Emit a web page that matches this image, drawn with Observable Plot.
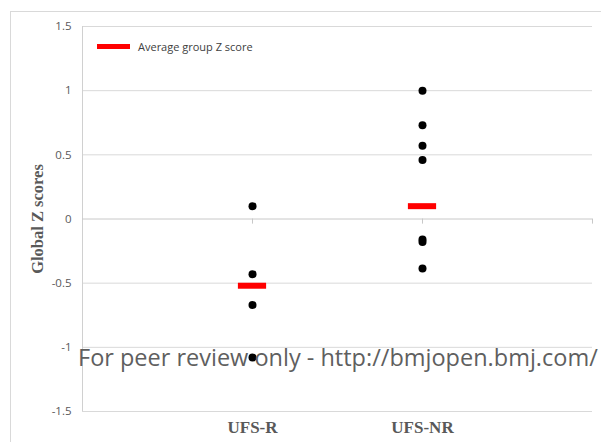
<!DOCTYPE html>
<html><head><meta charset="utf-8">
<script src="https://cdn.jsdelivr.net/npm/d3@7"></script>
<script src="https://cdn.jsdelivr.net/npm/@observablehq/plot@0.6"></script>
<style>
body{margin:0;background:#fff;}
#wrap{position:relative;width:601px;height:442px;overflow:hidden;}
#frame{position:absolute;left:10px;top:11px;width:700px;height:500px;border:1px solid #d9d9d9;box-sizing:border-box;}
#legend{position:absolute;left:97px;top:38px;height:16px;font:11px "Open Sans",sans-serif;color:#404040;display:flex;align-items:center;}
#legend .sw{display:inline-block;width:33px;height:5px;background:#ff0000;margin-right:8px;}
#wm{position:absolute;left:78px;top:346px;font:23.5px/1 "Open Sans",sans-serif;color:#5f5f5f;white-space:nowrap;}
</style></head><body>
<div id="wrap"><div id="frame"></div><div id="chart"></div>
<div id="legend"><span class="sw"></span><span>Average group Z score</span></div>
<div id="wm">For peer review only - http://bmjopen.bmj.com/</div></div>
<script>
const categories = ["UFS-R", "UFS-NR"];
const ufsR = [0.10, -0.43, -0.67, -1.08];
const ufsNR = [1.00, 0.73, 0.57, 0.46, -0.16, -0.18, -0.385];
const groupMeans = [-0.52, 0.10];
const yTicks = [-1.5, -1, -0.5, 0, 0.5, 1, 1.5];
const yLabel = "Global Z scores";

const points = [
  ...ufsR.map(v => ({pos: 1, v})),
  ...ufsNR.map(v => ({pos: 2, v}))
];
const means = groupMeans.map((v, i) => ({pos: i + 1, v}));

const plot = Plot.plot({
  width: 601, height: 442,
  marginLeft: 82, marginRight: 9, marginTop: 26, marginBottom: 31,
  x: {domain: [0, 3]},
  y: {domain: [-1.5, 1.5]},
  style: {background: "transparent"},
  marks: [
    Plot.ruleY(yTicks.filter(d => d !== 0), {stroke: "#d9d9d9", strokeWidth: 1}),
    Plot.ruleX([0], {stroke: "#d0d0d0"}),
    Plot.ruleY([0], {stroke: "#c8c8c8"}),
    Plot.ruleX([1, 2, 3], {y1: 0, y2: -0.04, stroke: "#c8c8c8"}),
    Plot.axisY({ticks: yTicks, tickSize: 0, tickPadding: 11, tickFormat: d => String(d),
      fontSize: 11.5, fill: "#595959", fontFamily: "Open Sans, sans-serif", label: null}),
    Plot.axisX({ticks: [1, 2], tickSize: 0, tickPadding: 9, tickFormat: d => categories[d - 1],
      fontSize: 17, fontWeight: "bold", fontFamily: "Liberation Serif, serif", fill: "#595959", label: null}),
    Plot.text([yLabel], {frameAnchor: "left", textAnchor: "middle", rotate: -90, dx: -44.5, text: d => d,
      fontSize: 16.5, fontWeight: "bold", fontFamily: "Liberation Serif, serif", fill: "#595959"}),
    Plot.dot(points, {x: "pos", y: "v", r: 4, fill: "black", stroke: "none"}),
    Plot.ruleY(means, {y: "v", x1: d => d.pos - 0.083, x2: d => d.pos + 0.083, stroke: "#ff0000", strokeWidth: 6})
  ]
});
document.getElementById("chart").appendChild(plot);
</script></body></html>
